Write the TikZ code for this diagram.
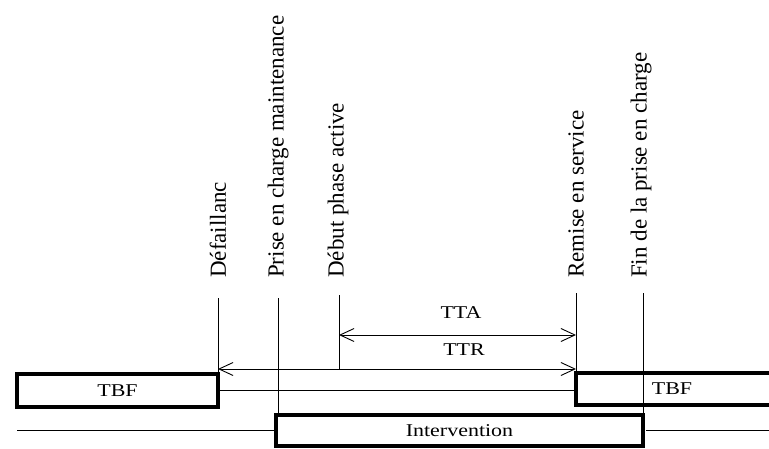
\documentclass[tikz,border=0pt]{standalone}
\usepackage{fontspec}
\setmainfont{Liberation Serif}
\newfontfamily\widefont[FakeStretch=1.22]{Liberation Serif}
\usetikzlibrary{arrows.meta}
\tikzset{
  bar/.style={draw, line width=3.5pt, inner sep=0pt, outer sep=0pt},
  thinline/.style={line width=0.9pt},
  span/.style={thinline, {Straight Barb[length=14pt,width=13pt]}-{Straight Barb[length=14pt,width=13pt]}},
  evlabel/.style={rotate=90, anchor=west, inner sep=0pt, font=\fontsize{23}{27}\selectfont},
  boxtext/.style={font=\widefont\fontsize{18}{22}\selectfont}
}

\begin{document}
\begin{tikzpicture}[x=1pt, y=1pt]
  \clip (0,0) rectangle (769,448);
  % event labels
  \foreach \n/\x/\t in {def/218/{Défaillanc}, pri/278/{Prise en charge maintenance},
      deb/338/{Début phase active}, rem/576/{Remise en service}, fin/641/{Fin de la prise en charge}}
    {\node[evlabel] (lbl\n) at (\x,170) {\t};}
  \coordinate (defTop) at (218,150);
  \coordinate (priTop) at (278,150);
  \coordinate (debTop) at (339,153);
  \coordinate (remTop) at (576,155);
  \coordinate (finTop) at (643,155);
  \coordinate (rightEdge) at (769,0);
  % states
  \node[bar, boxtext, anchor=south west, minimum width=201pt, minimum height=33pt] (tbfL) at (17,41) {TBF};
  \node[bar, anchor=south west, minimum width=220pt, minimum height=32pt] (tbfR) at (576,43) {};
  \node[boxtext, inner sep=0pt] (tbfRtxt) at (672,59) {TBF};
  \node[bar, boxtext, anchor=south west, minimum width=367pt, minimum height=31pt] (interv) at (276,2) {Intervention};
  % event markers
  \coordinate (ttaL) at (339,113);
  \coordinate (ttaR) at (576,113);
  \coordinate (ttrL) at (218,79);
  \coordinate (ttrR) at (576,79);
  \draw[thinline] (defTop) -- (defTop |- tbfL.north);
  \draw[thinline] (priTop) -- (priTop |- interv.north);
  \draw[thinline] (debTop) -- (debTop |- ttrL);
  \draw[thinline] (remTop) -- (remTop |- tbfR.north);
  \draw[thinline] (finTop) -- (finTop |- interv.north);
  % durations
  \draw[span] (ttaL) -- (ttaR);
  \node[boxtext, inner sep=0pt] (ttaLbl) at (461,135) {TTA};
  \draw[span] (ttrL) -- (ttrR);
  \node[boxtext, inner sep=0pt] (ttrLbl) at (464,98) {TTR};
  % time lines
  \draw[thinline] (tbfL.east) -- (tbfL.east -| tbfR.west);
  \draw[thinline] (interv.west -| tbfL.west) -- (interv.west);
  \draw[thinline] ([xshift=3pt]interv.east) -- (interv.east -| rightEdge);
\end{tikzpicture}
\end{document}
